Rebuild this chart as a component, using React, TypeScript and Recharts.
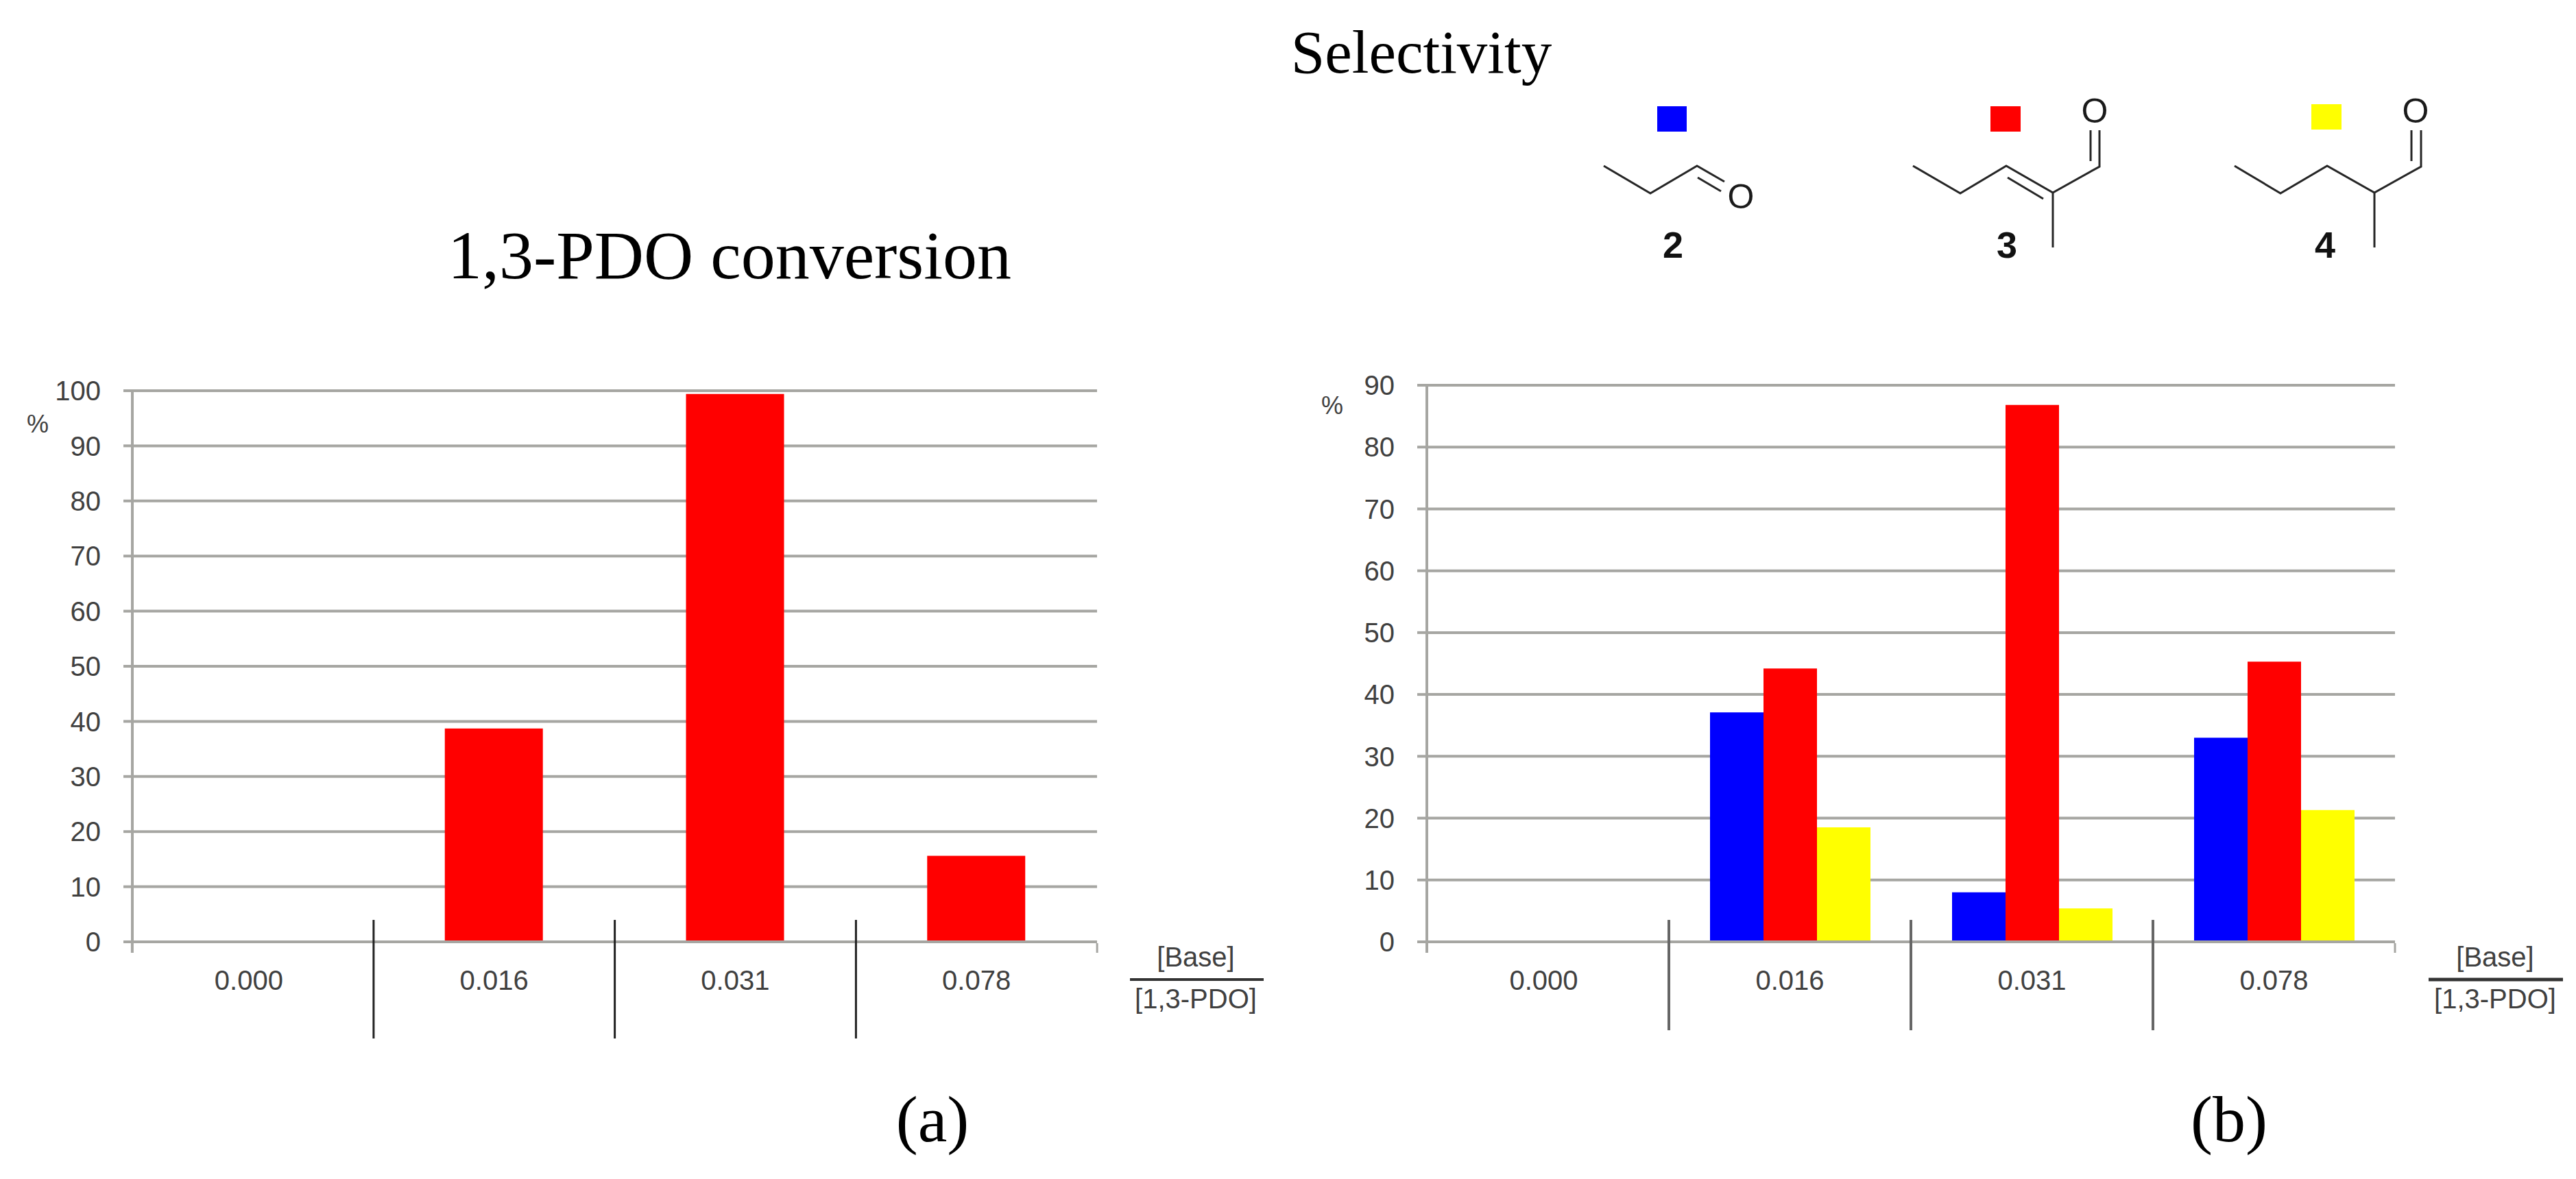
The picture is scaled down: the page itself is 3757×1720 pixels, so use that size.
import { Bar, BarChart, CartesianGrid, XAxis, YAxis } from "recharts";

const categories = ["0.000", "0.016", "0.031", "0.078"];
const conversion = [0, 38.7, 99.4, 15.6];
const selectivity2 = [0, 37.1, 8, 33];
const selectivity3 = [0, 44.2, 86.8, 45.3];
const selectivity4 = [0, 18.5, 5.4, 21.3];
const conversionTicks = [0, 10, 20, 30, 40, 50, 60, 70, 80, 90, 100];
const selectivityTicks = [0, 10, 20, 30, 40, 50, 60, 70, 80, 90];

const conversionRows = categories.map((c, i) => ({ c, v: conversion[i] }));
const selectivityRows = categories.map((c, i) => ({
  c,
  s2: selectivity2[i],
  s3: selectivity3[i],
  s4: selectivity4[i],
}));

const SANS = "'Liberation Sans', Arial, sans-serif";
const SERIF = "'Liberation Serif', 'Times New Roman', serif";
const GRID = "#a6a6a2";
const INK = "#404040";
const BLUE = "#0000ff";
const RED = "#ff0000";
const YELLOW = "#ffff00";

// category label plus the long separators between groups, which hang off the band edges
function bandTick(band: number, sepColor: string, sepWidth: number, sepBottom: number) {
  return (props: any) => {
    const { x, y, payload, index } = props;
    const right = x + band / 2;
    return (
      <g>
        {index === 0 && <line x1={x - band / 2} x2={x - band / 2} y1={y} y2={y + 14} stroke={GRID} strokeWidth={4} />}
        {index < categories.length - 1 ? (
          <line x1={right} x2={right} y1={y - 34} y2={y + sepBottom} stroke={sepColor} strokeWidth={sepWidth} />
        ) : (
          <line x1={right} x2={right} y1={y} y2={y + 14} stroke={GRID} strokeWidth={3} />
        )}
        <text x={index === 0 ? x - 6 : x} y={y + 54} textAnchor="middle" dominantBaseline="central" fontFamily={SANS} fontSize={40} fill={INK}>
          {payload.value}
        </text>
      </g>
    );
  };
}

function Ratio({ x, rule, ruleWidth }: { x: number; rule: [number, number]; ruleWidth: number }) {
  const style = { fontFamily: SANS, fontSize: 40, fill: INK };
  return (
    <g>
      <text x={x} y={1396} textAnchor="middle" dominantBaseline="central" style={style}>[Base]</text>
      <line x1={rule[0]} x2={rule[1]} y1={1429} y2={1429} stroke="#333" strokeWidth={ruleWidth} />
      <text x={x} y={1457} textAnchor="middle" dominantBaseline="central" style={style}>[1,3-PDO]</text>
    </g>
  );
}

function Bond({ points }: { points: string }) {
  return <polyline points={points} fill="none" stroke="#262626" strokeWidth={3} />;
}

function Overlay() {
  const oStyle = { fontFamily: SANS, fontSize: 50, fill: "#1a1a1a" };
  const numStyle = { fontFamily: SANS, fontSize: 54, fontWeight: 700, fill: "#111" };
  return (
    <svg width={3757} height={1720} style={{ position: "absolute", left: 0, top: 0 }}>
      <text x={1064} y={372} textAnchor="middle" dominantBaseline="central" fontFamily={SERIF} fontSize={100} fill="#000">
        1,3-PDO conversion
      </text>
      <text x={2073} y={76} textAnchor="middle" dominantBaseline="central" fontFamily={SERIF} fontSize={89} fill="#000">
        Selectivity
      </text>
      <text x={1360} y={1632} textAnchor="middle" dominantBaseline="central" fontFamily={SERIF} fontSize={96} fill="#000">(a)</text>
      <text x={3251} y={1632} textAnchor="middle" dominantBaseline="central" fontFamily={SERIF} fontSize={96} fill="#000">(b)</text>

      <text x={55} y={618} textAnchor="middle" dominantBaseline="central" fontFamily={SANS} fontSize={36} fill={INK}>%</text>
      <text x={1943} y={591} textAnchor="middle" dominantBaseline="central" fontFamily={SANS} fontSize={36} fill={INK}>%</text>

      <Ratio x={1744} rule={[1648, 1843]} ruleWidth={4} />
      <Ratio x={3639} rule={[3542, 3738]} ruleWidth={5} />

      <rect x={2417} y={155} width={43} height={37} fill={BLUE} />
      <rect x={2903} y={155} width={44} height={37} fill={RED} />
      <rect x={3371} y={152} width={44} height={37} fill={YELLOW} />

      {/* propanal */}
      <Bond points="2339,242 2407,282 2475,242 2515,265" />
      <Bond points="2476,259 2510,279" />
      <text x={2539} y={287} textAnchor="middle" dominantBaseline="central" style={oStyle}>O</text>
      <text x={2440} y={357} textAnchor="middle" dominantBaseline="central" style={numStyle}>2</text>

      {/* 2-methyl-2-pentenal */}
      <Bond points="2790,242 2859,282 2926,242 2994,281 3062,243 3062,190" />
      <Bond points="3049,190 3049,235" />
      <Bond points="2928,259 2980,290" />
      <Bond points="2994,281 2994,361" />
      <text x={3055} y={162} textAnchor="middle" dominantBaseline="central" style={oStyle}>O</text>
      <text x={2927} y={357} textAnchor="middle" dominantBaseline="central" style={numStyle}>3</text>

      {/* 2-methylpentanal */}
      <Bond points="3259,242 3326,282 3394,242 3463,281 3531,243 3531,190" />
      <Bond points="3517,190 3517,235" />
      <Bond points="3463,281 3463,361" />
      <text x={3523} y={162} textAnchor="middle" dominantBaseline="central" style={oStyle}>O</text>
      <text x={3391} y={357} textAnchor="middle" dominantBaseline="central" style={numStyle}>4</text>
    </svg>
  );
}

export default function App() {
  return (
    <div style={{ position: "absolute", left: 0, top: 0, width: 3757, height: 1720, background: "#fff", overflow: "hidden" }}>
      <div style={{ position: "absolute", left: 0, top: 500 }}>
        <BarChart width={1650} height={1100} data={conversionRows} margin={{ top: 70, right: 50, bottom: 166, left: 93 }} barSize={143}>
          <CartesianGrid vertical={false} stroke={GRID} strokeWidth={4} />
          <XAxis dataKey="c" interval={0} height={60} tickSize={0} tickLine={false} axisLine={{ stroke: GRID, strokeWidth: 4 }} tick={bandTick(352, "#222", 3, 139)} />
          <YAxis width={100} domain={[0, 100]} ticks={conversionTicks} interval={0} tickSize={13} tickMargin={33} axisLine={{ stroke: GRID, strokeWidth: 4 }} tickLine={{ stroke: GRID, strokeWidth: 4 }} tick={{ fontFamily: SANS, fontSize: 40, fill: INK }} />
          <Bar dataKey="v" fill={RED} isAnimationActive={false} />
        </BarChart>
      </div>
      <div style={{ position: "absolute", left: 1900, top: 500 }}>
        <BarChart width={1650} height={1100} data={selectivityRows} margin={{ top: 62, right: 57, bottom: 166, left: 81 }} barSize={78} barGap={0}>
          <CartesianGrid vertical={false} stroke={GRID} strokeWidth={4} />
          <XAxis dataKey="c" interval={0} height={60} tickSize={0} tickLine={false} axisLine={{ stroke: GRID, strokeWidth: 4 }} tick={bandTick(353, "#666", 4, 127)} />
          <YAxis width={100} domain={[0, 90]} ticks={selectivityTicks} interval={0} tickSize={14} tickMargin={33} axisLine={{ stroke: GRID, strokeWidth: 4 }} tickLine={{ stroke: GRID, strokeWidth: 4 }} tick={{ fontFamily: SANS, fontSize: 40, fill: INK }} />
          <Bar dataKey="s2" fill={BLUE} isAnimationActive={false} />
          <Bar dataKey="s3" fill={RED} isAnimationActive={false} />
          <Bar dataKey="s4" fill={YELLOW} isAnimationActive={false} />
        </BarChart>
      </div>
      <Overlay />
    </div>
  );
}
